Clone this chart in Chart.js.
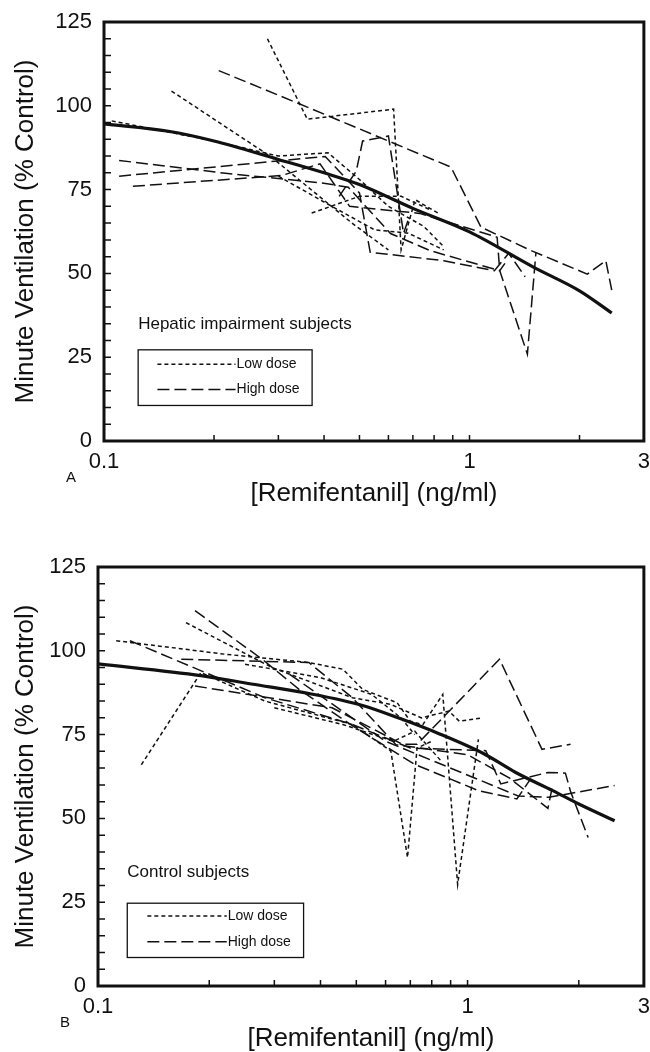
<!DOCTYPE html>
<html>
<head>
<meta charset="utf-8">
<title>Minute ventilation vs remifentanil</title>
<script src="https://cdn.jsdelivr.net/npm/chart.js@4.4.0/dist/chart.umd.min.js"></script>
<style>
    html, body { margin: 0; padding: 0; background: #fff; overflow: hidden; }
    .panel { position: absolute; left: 0; width: 650px; height: 525px; }
</style>
</head>
<body>
<div class="panel" style="top:0"><canvas id="chartA" width="650" height="525"></canvas></div>
<div class="panel" style="top:545px"><canvas id="chartB" width="650" height="525"></canvas></div>
<script>
// Axes
const xTickLabels = [0.1, 1, 3];
const xMinorTicks = [0.2, 0.3, 0.4, 0.5, 0.6, 0.7, 0.8, 0.9, 1, 2];
const yMinorTicks = [5, 10, 15, 20, 25, 30, 35, 40, 45, 50, 55, 60, 65, 70, 75, 80, 85, 90, 95, 100, 105, 110, 115, 120];

// Panel A - hepatic impairment subjects  [concentration, % control]
const hepaticFit = [[0.1, 94.6], [0.15, 92.4], [0.2, 89.5], [0.3, 84.0], [0.4, 80.0], [0.5, 76.5], [0.7, 69.4], [1.0, 62.4], [1.5, 51.8], [2.0, 44.8], [2.45, 38.2]];
const hepaticLow1 = [[0.28, 120], [0.36, 96], [0.62, 99], [0.65, 57], [0.71, 72], [0.82, 68]];
const hepaticLow2 = [[0.153, 104.4], [0.287, 84.7], [0.477, 65], [0.6, 57]];
const hepaticLow3 = [[0.105, 95.5], [0.2, 89.5], [0.3, 85], [0.41, 86], [0.5, 78], [0.6, 70], [0.75, 64], [0.85, 58]];
const hepaticLow4 = [[0.37, 68], [0.5, 73], [0.65, 73], [0.78, 69]];
const hepaticLow5 = [[0.3, 79], [0.42, 70], [0.55, 63], [0.68, 62], [0.85, 57]];
const hepaticHigh1 = [[0.206, 110.5], [0.36, 99.6], [0.89, 81.7], [1.075, 63.8], [1.475, 56.8], [2.1, 49.8], [2.36, 53.8], [2.45, 45]];
const hepaticHigh2 = [[0.11, 79], [0.403, 84.9], [0.5, 74], [0.535, 56.3], [0.85, 53.8], [1.17, 50.8], [1.28, 56], [1.42, 49]];
const hepaticHigh3 = [[0.11, 83.7], [0.218, 79.8], [0.395, 77], [0.466, 75.7], [0.608, 61.9], [0.78, 56.8], [1.21, 50.8], [1.25, 53]];
const hepaticHigh4 = [[0.12, 76], [0.306, 79.2], [0.39, 82.7], [0.47, 70], [0.73, 67.9], [1.19, 60.8], [1.21, 50.8], [1.44, 25.9], [1.52, 56.3]];
const hepaticHigh5 = [[0.44, 73], [0.49, 80.5], [0.51, 89.5], [0.6, 91], [0.66, 62], [0.68, 66]];

// Panel B - control subjects
const controlFit = [[0.1, 96.1], [0.19, 92.6], [0.26, 90.1], [0.375, 87.2], [0.52, 83.7], [0.66, 79.7], [0.84, 75.2], [1.11, 69.2], [1.35, 63.7], [1.7, 58.3], [2.0, 54.3], [2.5, 49.3]];
const controlLow1 = [[0.112, 103], [0.22, 99], [0.372, 96.5], [0.46, 94.5], [0.52, 88.5], [0.645, 84.5], [0.7, 79], [0.757, 78], [0.857, 87], [0.94, 30.3], [1.07, 73.6]];
const controlLow2 = [[0.173, 108.4], [0.296, 95], [0.488, 86], [0.62, 84], [0.75, 80], [0.89, 82], [0.95, 79], [1.1, 80]];
const controlLow3 = [[0.131, 66], [0.19, 93.5], [0.283, 85], [0.488, 78], [0.62, 70.1], [0.688, 38.3], [0.73, 71], [0.8, 73]];
const controlLow4 = [[0.3, 83], [0.46, 78], [0.63, 73], [0.72, 76], [0.85, 67]];
const controlLow5 = [[0.25, 96], [0.4, 92], [0.55, 87], [0.66, 80], [0.72, 75]];
const controlHigh1 = [[0.183, 112], [0.278, 97.5], [0.35, 88.5], [0.49, 77.5], [0.72, 66.1], [1.07, 58.3], [1.36, 55.8], [1.48, 61.7]];
const controlHigh2 = [[0.122, 103], [0.283, 86], [0.488, 78], [0.7, 71], [1.12, 70.2], [1.23, 60.3], [1.65, 63.7], [1.84, 63.5], [1.9, 58], [2.12, 44.3]];
const controlHigh3 = [[0.168, 97.5], [0.372, 96.5], [0.488, 86], [0.64, 72], [1.0, 69], [1.3, 62], [1.65, 53], [1.7, 60]];
const controlHigh4 = [[0.183, 89.5], [0.43, 83], [0.667, 72.1], [0.73, 72.1], [1.22, 97.5], [1.59, 70.6], [1.9, 72.1]];
const controlHigh5 = [[0.33, 93], [0.6, 73], [1.37, 56.7], [1.66, 56.3], [2.5, 59.8]];

const FONT = '"Liberation Sans", Arial, Helvetica, sans-serif';
const INK = '#111';
const STYLES = {
    low: { dash: [4, 3], width: 1.5 },
    high: { dash: [12, 5], width: 1.5 },
    fit: { dash: [], width: 3.2 }
};

function lineSet(points, kind) {
    const s = STYLES[kind];
    return {
        data: points.map(([x, y]) => ({ x: x, y: y })),
        borderColor: INK,
        borderWidth: s.width,
        borderDash: s.dash,
        pointRadius: 0,
        fill: false,
        tension: 0,
        // the fitted model curve is smooth, the subject traces are not
        cubicInterpolationMode: kind === 'fit' ? 'monotone' : 'default'
    };
}

// frame, inward ticks, legend box and panel letter
const panelDecor = {
    id: 'panelDecor',
    afterDatasetsDraw(chart, args, opts) {
        const { ctx, chartArea: a, scales: { x, y } } = chart;
        ctx.save();
        ctx.strokeStyle = INK;
        ctx.fillStyle = INK;
        ctx.setLineDash([]);

        ctx.lineWidth = 1.5;
        ctx.beginPath();
        xMinorTicks.forEach(v => {
            const px = x.getPixelForValue(v);
            ctx.moveTo(px, a.bottom);
            ctx.lineTo(px, a.bottom - 6);
        });
        yMinorTicks.forEach(v => {
            const py = y.getPixelForValue(v);
            ctx.moveTo(a.left, py);
            ctx.lineTo(a.left + 7, py);
        });
        ctx.stroke();

        ctx.lineWidth = 3;
        ctx.strokeRect(a.left, a.top, a.right - a.left, a.bottom - a.top);

        // legend
        const lg = opts.legend;
        const bx0 = x.getPixelForValue(lg.box[0]), bx1 = x.getPixelForValue(lg.box[1]);
        const by0 = y.getPixelForValue(lg.box[2]), by1 = y.getPixelForValue(lg.box[3]);
        ctx.lineWidth = 1.3;
        ctx.strokeRect(bx0, by0, bx1 - bx0, by1 - by0);

        ctx.textAlign = 'left';
        ctx.textBaseline = 'middle';
        ctx.font = '17px ' + FONT;
        ctx.fillText(lg.group, x.getPixelForValue(lg.groupAt[0]), y.getPixelForValue(lg.groupAt[1]));

        const sx0 = x.getPixelForValue(lg.sample[0]), sx1 = x.getPixelForValue(lg.sample[1]);
        ctx.font = '14px ' + FONT;
        [['low', 'Low dose'], ['high', 'High dose']].forEach(([kind, label], i) => {
            const py = y.getPixelForValue(lg.rows[i]);
            ctx.lineWidth = STYLES[kind].width;
            ctx.setLineDash(STYLES[kind].dash);
            ctx.beginPath();
            ctx.moveTo(sx0, py);
            ctx.lineTo(sx1, py);
            ctx.stroke();
            ctx.setLineDash([]);
            ctx.fillText(label, sx1 + 1, py);
        });

        ctx.font = '15px ' + FONT;
        ctx.textAlign = 'center';
        ctx.fillText(opts.letter, a.left - 33, a.bottom + 37);
        ctx.restore();
    }
};

function buildChart(canvasId, datasets, opts) {
    const ctx = document.getElementById(canvasId).getContext('2d');
    return new Chart(ctx, {
        type: 'line',
        data: { datasets: datasets },
        plugins: [panelDecor],
        options: {
            responsive: false,
            animation: false,
            devicePixelRatio: 1,
            layout: { padding: { top: 22, right: 3, left: 0, bottom: 0 } },
            scales: {
                x: {
                    type: 'logarithmic',
                    min: 0.1,
                    max: 3,
                    grid: { display: false },
                    border: { display: false },
                    afterBuildTicks: scale => {
                        scale.ticks = xTickLabels.map(v => ({ value: v }));
                    },
                    afterFit: scale => { scale.height = 84; },
                    ticks: {
                        autoSkip: false,
                        maxRotation: 0,
                        padding: 0,
                        color: INK,
                        font: { family: FONT, size: 22 },
                        callback: value => String(value)
                    },
                    title: {
                        display: true,
                        text: '[Remifentanil] (ng/ml)',
                        color: INK,
                        font: { family: FONT, size: 26, lineHeight: 1.2 },
                        padding: { top: 0, bottom: 16 }
                    }
                },
                y: {
                    min: 0,
                    max: 125,
                    grid: { display: false },
                    border: { display: false },
                    afterFit: scale => { scale.width = opts.yWidth; },
                    ticks: {
                        stepSize: 25,
                        padding: 4,
                        color: INK,
                        font: { family: FONT, size: 22 }
                    },
                    title: {
                        display: true,
                        text: 'Minute Ventilation (% Control)',
                        color: INK,
                        font: { family: FONT, size: 26, lineHeight: 1.2 },
                        padding: { top: 10, bottom: 0 }
                    }
                }
            },
            plugins: {
                legend: { display: false },
                tooltip: { enabled: false },
                panelDecor: { legend: opts.legend, letter: opts.letter }
            }
        }
    });
}

buildChart('chartA', [
    lineSet(hepaticFit, 'fit'),
    lineSet(hepaticLow1, 'low'),
    lineSet(hepaticLow2, 'low'),
    lineSet(hepaticLow3, 'low'),
    lineSet(hepaticLow4, 'low'),
    lineSet(hepaticLow5, 'low'),
    lineSet(hepaticHigh1, 'high'),
    lineSet(hepaticHigh2, 'high'),
    lineSet(hepaticHigh3, 'high'),
    lineSet(hepaticHigh4, 'high'),
    lineSet(hepaticHigh5, 'high')
], {
    yWidth: 104,
    letter: 'A',
    legend: {
        group: 'Hepatic impairment subjects',
        groupAt: [0.124, 34.7],
        box: [0.124, 0.371, 27.2, 10.6],
        sample: [0.14, 0.229],
        rows: [22.9, 15.4]
    }
});

buildChart('chartB', [
    lineSet(controlFit, 'fit'),
    lineSet(controlLow1, 'low'),
    lineSet(controlLow2, 'low'),
    lineSet(controlLow3, 'low'),
    lineSet(controlLow4, 'low'),
    lineSet(controlLow5, 'low'),
    lineSet(controlHigh1, 'high'),
    lineSet(controlHigh2, 'high'),
    lineSet(controlHigh3, 'high'),
    lineSet(controlHigh4, 'high'),
    lineSet(controlHigh5, 'high')
], {
    yWidth: 98,
    letter: 'B',
    legend: {
        group: 'Control subjects',
        groupAt: [0.12, 33.9],
        box: [0.12, 0.36, 24.7, 8.5],
        sample: [0.136, 0.223],
        rows: [20.9, 13.2]
    }
});
</script>
</body>
</html>
